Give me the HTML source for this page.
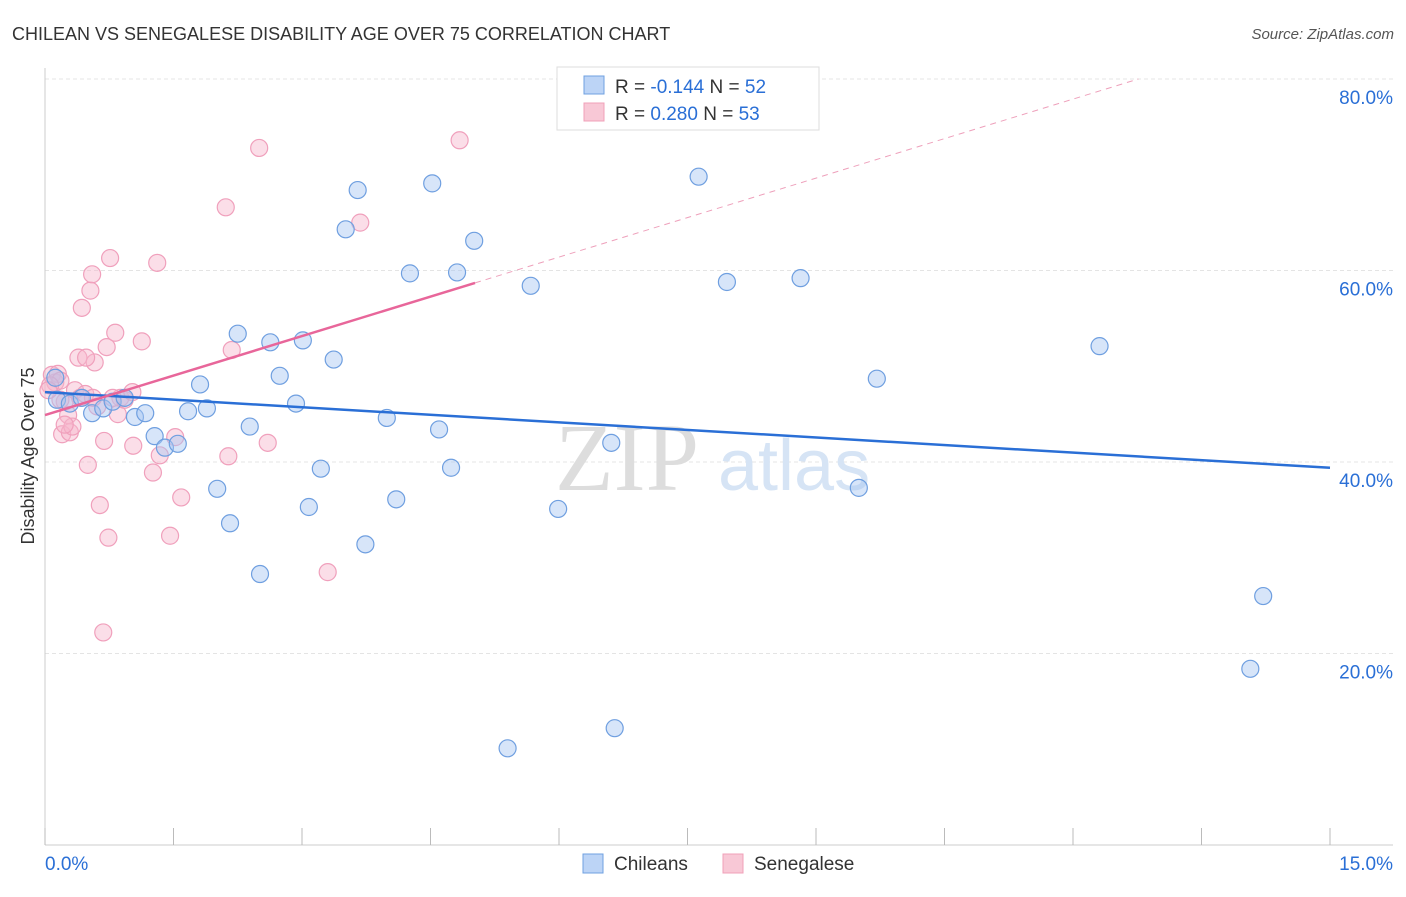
<!DOCTYPE html>
<html><head><meta charset="utf-8"><style>
body{margin:0;background:#fff;font-family:"Liberation Sans",sans-serif;}
svg text{font-family:"Liberation Sans",sans-serif;}
</style></head><body>
<svg id="chart" width="1406" height="892" xmlns="http://www.w3.org/2000/svg">
<text x="12" y="40" font-size="18" fill="#333">CHILEAN VS SENEGALESE DISABILITY AGE OVER 75 CORRELATION CHART</text>
<text x="1394" y="39" font-size="15" fill="#555" text-anchor="end" font-style="italic">Source: ZipAtlas.com</text>
<g id="grid"></g>
<text x="555" y="490" font-size="96" fill="#ddd" font-family="Liberation Serif" style="font-family:'Liberation Serif',serif">ZIP</text>
<text x="718" y="490" font-size="72" fill="#d6e4f5">atlas</text>
<g id="axes"></g>
<g id="pts"></g>
<g id="trends"></g>
<text transform="translate(34,456) rotate(-90)" font-size="18" fill="#333" text-anchor="middle">Disability Age Over 75</text>
<g>
<rect x="557" y="67" width="262" height="63" fill="#fff" stroke="#ddd"/>
<rect x="584" y="76" width="20" height="18" fill="#bcd4f6" stroke="#6fa0e0"/>
<rect x="584" y="103" width="20" height="18" fill="#f8c8d6" stroke="#f0a0b8"/>
<text x="615" y="93" font-size="19" fill="#333">R = <tspan fill="#2a6fd6">-0.144</tspan>   N = <tspan fill="#2a6fd6">52</tspan></text>
<text x="615" y="120" font-size="19" fill="#333">R =  <tspan fill="#2a6fd6">0.280</tspan>   N = <tspan fill="#2a6fd6">53</tspan></text>
</g>
<g>
<rect x="583" y="854" width="20" height="19" fill="#bcd4f6" stroke="#6fa0e0"/>
<text x="614" y="870" font-size="19" fill="#333">Chileans</text>
<rect x="723" y="854" width="20" height="19" fill="#f8c8d6" stroke="#f0a0b8"/>
<text x="754" y="870" font-size="19" fill="#333">Senegalese</text>
</g>
</svg>
<script>
const xTicksLabels=["0.0%","15.0%"];
const yTicks=[20,40,60,80];
const blueX=[0.12,0.14,0.29,0.55,0.68,0.79,0.93,1.05,1.17,1.28,1.40,1.55,1.67,1.81,1.89,2.01,2.16,2.25,2.39,2.51,2.63,2.74,2.93,3.01,3.08,3.22,3.37,3.51,3.65,3.74,3.99,4.10,4.26,4.52,4.60,4.74,4.81,5.01,5.40,5.67,5.99,6.61,6.65,7.63,7.96,8.82,9.50,9.71,12.31,14.07,14.22,0.43];
const blueY=[48.8,46.5,46.1,45.1,45.6,46.3,46.7,44.7,45.1,42.7,41.5,41.9,45.3,48.1,45.6,37.2,33.6,53.4,43.7,28.3,52.5,49.0,46.1,52.7,35.3,39.3,50.7,64.3,68.4,31.4,44.6,36.1,59.7,69.1,43.4,39.4,59.8,63.1,10.1,58.4,35.1,42.0,12.2,69.8,58.8,59.2,37.3,48.7,52.1,18.4,26.0,46.7];
const pinkX=[0.08,0.12,0.15,0.18,0.20,0.23,0.27,0.29,0.32,0.35,0.39,0.41,0.43,0.47,0.50,0.53,0.55,0.58,0.61,0.64,0.68,0.69,0.72,0.74,0.76,0.82,0.85,0.88,0.93,1.02,1.03,1.13,1.26,1.31,1.34,1.46,1.52,1.59,2.11,2.14,2.18,2.50,2.60,3.30,3.68,4.84,0.18,0.06,0.48,0.23,0.79,0.56,0.04];
const pinkY=[49.1,48.3,49.2,48.5,42.9,46.3,44.9,43.1,43.7,47.5,50.9,46.7,56.1,47.1,39.7,57.9,59.6,50.4,45.8,35.5,22.2,42.2,52.0,32.1,61.3,53.5,45.0,46.7,46.5,47.3,41.7,52.6,38.9,60.8,40.7,32.3,42.6,36.3,66.6,40.6,51.7,72.8,42.0,28.5,65.0,73.6,46.5,48.0,50.9,43.9,46.7,46.7,47.5];
const blueTrend=[47.3,39.4];
const pinkTrend=[44.9,2.75];
const NS="http://www.w3.org/2000/svg";
const sx=v=>45+v*(1285/15), sy=v=>845-v*9.575;
function mk(tag,attrs,parent){const e=document.createElementNS(NS,tag);for(const k in attrs)e.setAttribute(k,attrs[k]);parent.appendChild(e);return e;}
const grid=document.getElementById('grid'),axes=document.getElementById('axes'),pts=document.getElementById('pts'),tr=document.getElementById('trends');
yTicks.forEach(t=>{const l=mk('line',{x1:45,x2:1393,y1:sy(t),y2:sy(t),stroke:'#e4e4e4','stroke-dasharray':'4,3'},grid);


const tx=mk('text',{x:1393,y:sy(t)+25,'font-size':19,fill:'#2a6fd6','text-anchor':'end'},axes);tx.textContent=t.toFixed(1)+'%';

});
mk('line',{x1:45,x2:45,y1:68,y2:845,stroke:'#ccc'},axes);
mk('line',{x1:45,x2:1393,y1:845,y2:845,stroke:'#ccc'},axes);
for(let i=0;i<=10;i++){const t=mk('line',{x1:sx(i*1.5),x2:sx(i*1.5),y1:828,y2:845,stroke:'#bbb'},axes);

}
const xl0=mk('text',{x:45,y:870,'font-size':19,fill:'#2a6fd6'},axes);xl0.textContent=xTicksLabels[0];


const xl1=mk('text',{x:1393,y:870,'font-size':19,fill:'#2a6fd6','text-anchor':'end'},axes);xl1.textContent=xTicksLabels[1];


function dots(X,Y,fill,stroke,name){X.forEach((x,i)=>{const c=mk('circle',{cx:sx(x),cy:sy(Y[i]),r:8.5,fill:fill,stroke:stroke,'stroke-width':1.2},pts);

});}
dots(pinkX,pinkY,'rgba(246,182,204,0.45)','#f0a0bc','senegalese-point');
dots(blueX,blueY,'rgba(166,198,242,0.45)','#6f9fe0','chilean-point');
const bl=mk('line',{x1:sx(0),y1:sy(blueTrend[0]),x2:sx(15),y2:sy(blueTrend[1]),stroke:'#2a6fd6','stroke-width':2.5},tr);


const pEnd=5.02, dEnd=(80-pinkTrend[0])/pinkTrend[1];
const pl=mk('line',{x1:sx(0),y1:sy(pinkTrend[0]),x2:sx(pEnd),y2:sy(pinkTrend[0]+pinkTrend[1]*pEnd),stroke:'#e8669a','stroke-width':2.5},tr);


const pd=mk('line',{x1:sx(pEnd),y1:sy(pinkTrend[0]+pinkTrend[1]*pEnd),x2:sx(dEnd),y2:sy(80),stroke:'#eea0bb','stroke-width':1,'stroke-dasharray':'6,5'},tr);


</script>
</body></html>
